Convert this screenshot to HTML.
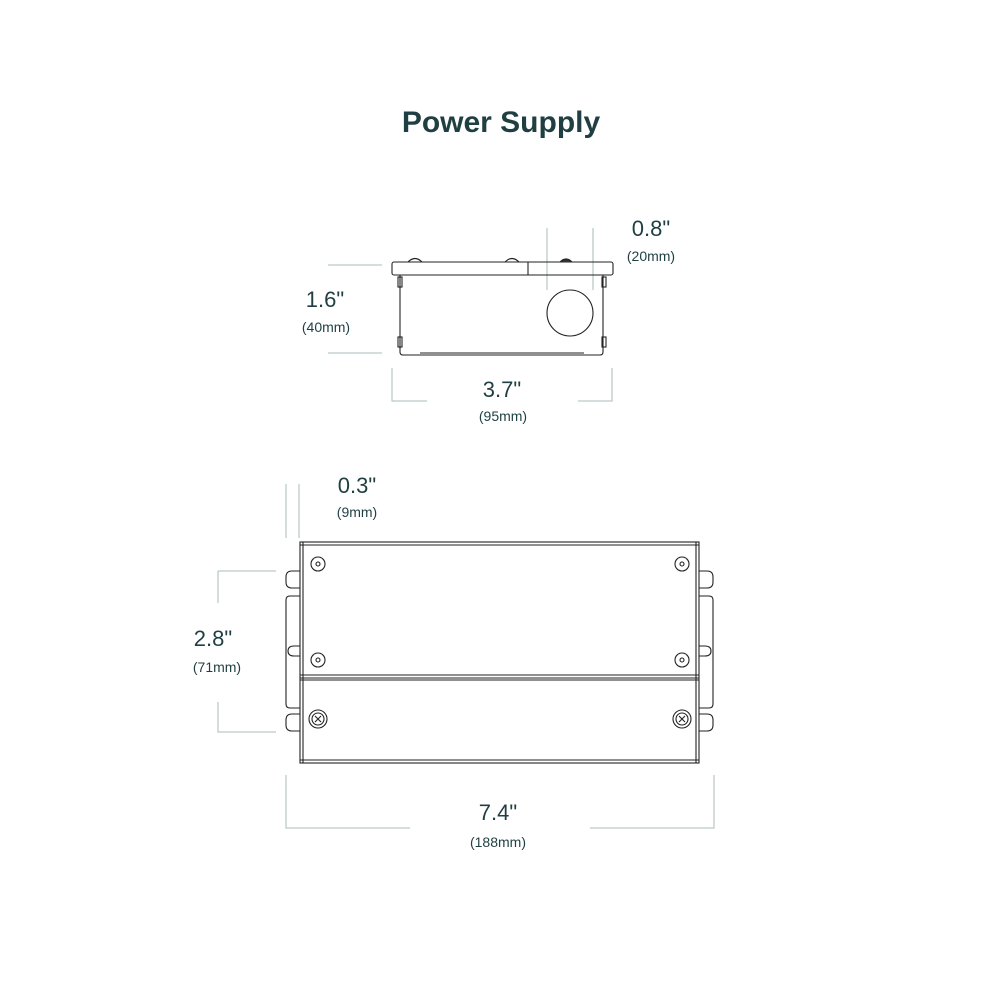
<!DOCTYPE html>
<html><head><style>
body{margin:0;background:#fff;width:1000px;height:1000px;overflow:hidden}
svg{display:block}
text{font-family:"Liberation Sans",sans-serif;fill:#1f3f42}
</style></head><body>
<svg width="1000" height="1000" viewBox="0 0 1000 1000">
<text x="501" y="132" font-size="30" font-weight="bold" text-anchor="middle">Power Supply</text>
<g stroke="#bccaca" stroke-width="1.3" fill="none">
<polyline points="547,228 547,290"/><polyline points="593,228 593,290"/>
<polyline points="328,265 382,265"/><polyline points="328,353 382,353"/>
<polyline points="392,368 392,401 427,401"/><polyline points="612,368 612,401 578,401"/>
<polyline points="286,484 286,538"/><polyline points="299,484 299,538"/>
<polyline points="218,571 276,571"/><polyline points="218,571 218,603"/>
<polyline points="218,702 218,732 276,732"/>
<polyline points="286,775 286,828 410,828"/><polyline points="714,775 714,828 590,828"/>
</g>
<g font-size="22" text-anchor="middle">
<text x="651" y="236">0.8"</text>
<text x="325" y="307">1.6"</text>
<text x="502" y="397">3.7"</text>
<text x="357" y="493">0.3"</text>
<text x="213" y="646">2.8"</text>
<text x="498" y="820">7.4"</text>
</g>
<g font-size="14" text-anchor="middle">
<text x="651" y="261">(20mm)</text>
<text x="326" y="332">(40mm)</text>
<text x="503" y="421">(95mm)</text>
<text x="357" y="517">(9mm)</text>
<text x="217" y="672">(71mm)</text>
<text x="498" y="847">(188mm)</text>
</g>
<g stroke="#222" stroke-width="1.1" fill="none">
<rect x="392" y="262" width="221" height="13" rx="2"/>
<line x1="528" y1="262" x2="528" y2="275"/>
<path d="M408 262 q7 -7 14 0 M505 262 q7 -7 14 0"/>
<path d="M560 262 q6 -6 12 0" fill="#333"/>
<path d="M400 275 V352 q0 3 3 3 H600 q3 0 3 -3 V275"/>
<line x1="420" y1="353" x2="584" y2="353"/>
<rect x="398" y="277" width="4" height="10"/><rect x="398" y="337" width="4" height="10"/>
<rect x="602" y="277" width="4" height="10"/><rect x="602" y="337" width="4" height="10"/>
<circle cx="570" cy="313" r="23"/>
<rect x="300" y="542" width="399" height="221"/>
<line x1="300" y1="545" x2="699" y2="545"/>
<line x1="303" y1="542" x2="303" y2="763"/><line x1="696" y1="542" x2="696" y2="763"/>
<line x1="300" y1="675" x2="699" y2="675"/><line x1="300" y1="678" x2="699" y2="678"/>
<line x1="300" y1="680" x2="699" y2="680"/>
<line x1="300" y1="760" x2="699" y2="760"/>
<path d="M300 571 H292 q-6 0 -6 6 v5 q0 6 6 6 H300"/>
<path d="M300 596 H290 q-4 0 -4 4 V704 q0 4 4 4 H300"/>
<path d="M300 646 H294 q-6 0 -6 5 q0 5 6 5 H300"/>
<path d="M300 714 H292 q-6 0 -6 6 v5 q0 6 6 6 H300"/>
<path d="M699 571 H707 q6 0 6 6 v5 q0 6 -6 6 H699"/>
<path d="M699 596 H709 q4 0 4 4 V704 q0 4 -4 4 H699"/>
<path d="M699 646 H705 q6 0 6 5 q0 5 -6 5 H699"/>
<path d="M699 714 H707 q6 0 6 6 v5 q0 6 -6 6 H699"/>
<circle cx="318" cy="564" r="7"/><circle cx="318" cy="564" r="2"/>
<circle cx="682" cy="564" r="7"/><circle cx="682" cy="564" r="2"/>
<circle cx="318" cy="660" r="7"/><circle cx="318" cy="660" r="2"/>
<circle cx="682" cy="660" r="7"/><circle cx="682" cy="660" r="2"/>
<circle cx="318" cy="719" r="9"/><circle cx="318" cy="719" r="6"/>
<circle cx="682" cy="719" r="9"/><circle cx="682" cy="719" r="6"/>
<path d="M315 716 l6 6 M321 716 l-6 6 M679 716 l6 6 M685 716 l-6 6"/>
</g>
</svg>
</body></html>
